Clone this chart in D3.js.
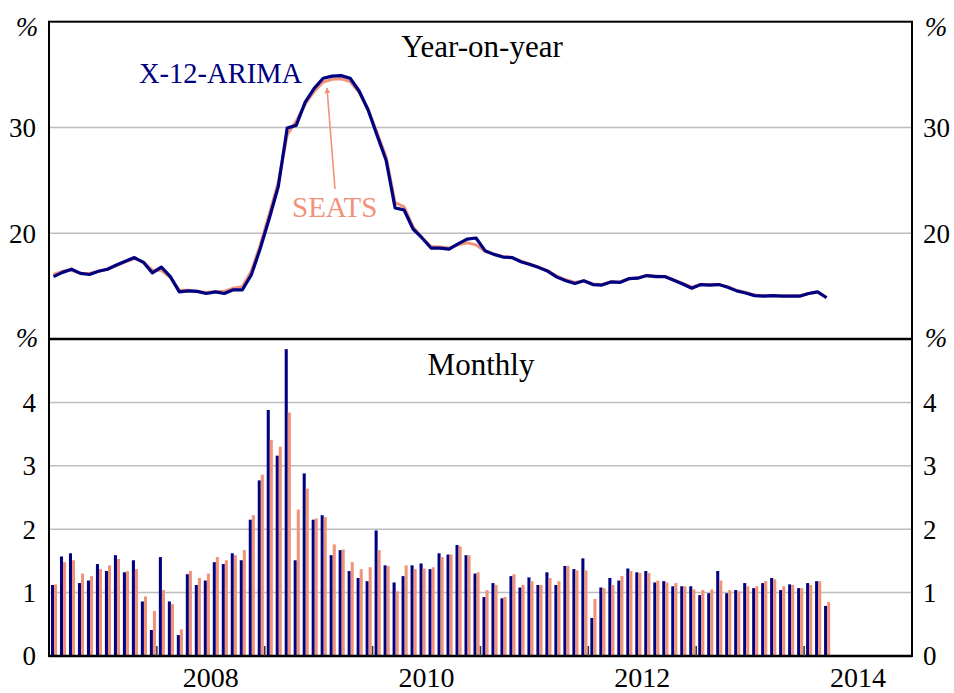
<!DOCTYPE html>
<html>
<head>
<meta charset="utf-8">
<script src="https://cdn.jsdelivr.net/npm/d3@7"></script>
<style>
  body { margin: 0; background: #fff; }
  text { font-family: "Liberation Serif", "Times New Roman", serif; }
</style>
</head>
<body>
<svg id="chart"></svg>
<script>
// Monthly data, Jan 2007 onwards (one value per month)
const firstMonth = new Date(2007, 0, 1);

const x12YoY = [
  15.9, 16.3, 16.6, 16.2, 16.1, 16.4, 16.6, 17.0, 17.35, 17.7,
  17.25, 16.25, 16.8, 15.9, 14.45, 14.55, 14.5, 14.3, 14.45, 14.3,
  14.65, 14.65, 16.05, 18.55, 21.4, 24.4, 29.95, 30.2, 32.4, 33.7,
  34.65, 34.85, 34.9, 34.65, 33.45, 31.65, 29.25, 26.9, 22.4, 22.2,
  20.4, 19.55, 18.6, 18.6, 18.5, 19.0, 19.45, 19.55, 18.35, 18.0,
  17.75, 17.7, 17.3, 17.05, 16.75, 16.4, 15.85, 15.5, 15.25, 15.5,
  15.15, 15.1, 15.4, 15.35, 15.7, 15.75, 16.0, 15.9, 15.9, 15.55,
  15.2, 14.8, 15.15, 15.1, 15.15, 14.9, 14.55, 14.35, 14.1, 14.05,
  14.1, 14.05, 14.05, 14.05, 14.3, 14.45, 13.9
];
const seatsYoY = [
  16.1, 16.4, 16.5, 16.2, 16.2, 16.4, 16.6, 16.95, 17.3, 17.6,
  17.3, 16.5, 16.5, 15.8, 14.6, 14.6, 14.5, 14.4, 14.5, 14.5,
  14.8, 14.95, 16.4, 18.9, 21.8, 24.8, 29.3, 30.6, 32.2, 33.4,
  34.3, 34.55, 34.6, 34.35, 33.3, 31.7, 29.5, 27.2, 22.9, 22.5,
  20.6, 19.6, 18.75, 18.7, 18.6, 18.9, 19.1, 18.9, 18.3, 18.0,
  17.8, 17.7, 17.35, 17.1, 16.8, 16.45, 15.95, 15.6, 15.35, 15.5,
  15.2, 15.15, 15.4, 15.4, 15.7, 15.8, 16.0, 15.95, 15.9, 15.6,
  15.25, 14.9, 15.15, 15.15, 15.15, 14.95, 14.6, 14.4, 14.15, 14.1,
  14.1, 14.1, 14.1, 14.1, 14.3, 14.45, 13.95
];
const x12Monthly = [
  1.12, 1.57, 1.62, 1.15, 1.19, 1.45, 1.34, 1.59, 1.32, 1.51,
  0.86, 0.41, 1.56, 0.86, 0.33, 1.29, 1.12, 1.19, 1.48, 1.45,
  1.62, 1.51, 2.15, 2.77, 3.88, 3.16, 4.84, 1.51, 2.88, 2.15,
  2.22, 1.59, 1.67, 1.34, 1.23, 1.18, 1.98, 1.43, 1.16, 1.26,
  1.43, 1.46, 1.37, 1.62, 1.60, 1.75, 1.59, 1.30, 0.93, 1.15,
  0.91, 1.26, 1.08, 1.24, 1.12, 1.32, 1.12, 1.42, 1.37, 1.54,
  0.60, 1.08, 1.23, 1.19, 1.38, 1.32, 1.34, 1.16, 1.18, 1.10,
  1.10, 1.10, 0.96, 0.99, 1.34, 0.99, 1.04, 1.15, 1.07, 1.15,
  1.23, 1.04, 1.13, 1.07, 1.15, 1.18, 0.79
];
const seatsMonthly = [
  1.13, 1.48, 1.51, 1.30, 1.26, 1.37, 1.43, 1.53, 1.34, 1.37,
  0.94, 0.71, 1.04, 0.82, 0.42, 1.34, 1.23, 1.30, 1.56, 1.51,
  1.59, 1.67, 2.22, 2.86, 3.41, 3.30, 3.84, 2.31, 2.64, 2.17,
  2.19, 1.76, 1.68, 1.48, 1.37, 1.40, 1.67, 1.42, 1.02, 1.43,
  1.37, 1.38, 1.40, 1.56, 1.60, 1.73, 1.59, 1.32, 1.04, 1.12,
  0.93, 1.29, 1.12, 1.18, 1.12, 1.23, 1.18, 1.42, 1.35, 1.35,
  0.90, 1.07, 1.12, 1.26, 1.34, 1.31, 1.31, 1.19, 1.16, 1.15,
  1.10, 1.05, 1.04, 1.05, 1.19, 1.04, 1.02, 1.10, 1.10, 1.18,
  1.21, 1.10, 1.12, 1.07, 1.12, 1.18, 0.85
];

const yearTicks = [2008, 2009, 2010, 2011, 2012, 2013, 2014];
const yearLabels = [2008, 2010, 2012, 2014];
const yoyTicks = [20, 30];
const yoyGrid = [20, 30];
const monthlyTicks = [0, 1, 2, 3, 4];

const navy = "#000080";
const salmon = "#f0937a";

const width = 954, height = 693;
const left = 49, right = 912;
const topY = 21.7, midY = 339, bottomY = 656;

const svg = d3.select("#chart")
    .attr("width", width)
    .attr("height", height);

// one band per month across the whole axis (2007-2014)
const fmt = d3.timeFormat("%Y-%m");
const allMonths = d3.timeMonth.range(new Date(2007, 0, 1), new Date(2015, 0, 1)).map(fmt);
const dataMonths = x12Monthly.map((d, i) => fmt(d3.timeMonth.offset(firstMonth, i)));

const x = d3.scaleBand().domain(allMonths).range([left, right]);
const bw = x.bandwidth();
const xSub = d3.scaleBand().domain(["x12", "seats"]).range([bw * 0.22, bw * 0.9]);

const yTop = d3.scaleLinear().domain([10, 40]).range([midY, topY]);
const yBot = d3.scaleLinear().domain([0, 5]).range([bottomY, midY]);

// gridlines
svg.append("g").selectAll("line")
    .data(yoyGrid)
    .enter().append("line")
    .attr("x1", left).attr("x2", right)
    .attr("y1", d => yTop(d)).attr("y2", d => yTop(d))
    .attr("stroke", "#bdbdbd").attr("stroke-width", 1.5);

svg.append("g").selectAll("line")
    .data(monthlyTicks.slice(1))
    .enter().append("line")
    .attr("x1", left).attr("x2", right)
    .attr("y1", d => yBot(d)).attr("y2", d => yBot(d))
    .attr("stroke", "#bdbdbd").attr("stroke-width", 1.5);

// monthly bars
const barData = dataMonths.map((m, i) => ({ m, x12: x12Monthly[i], seats: seatsMonthly[i] }));
const bars = svg.append("g").selectAll("g")
    .data(barData)
    .enter().append("g")
    .attr("transform", d => `translate(${x(d.m)},0)`);

bars.append("rect")
    .attr("x", xSub("x12"))
    .attr("width", xSub.bandwidth())
    .attr("y", d => yBot(d.x12))
    .attr("height", d => yBot(0) - yBot(d.x12))
    .attr("fill", navy);

bars.append("rect")
    .attr("x", xSub("seats"))
    .attr("width", xSub.bandwidth())
    .attr("y", d => yBot(d.seats))
    .attr("height", d => yBot(0) - yBot(d.seats))
    .attr("fill", salmon);

// year-on-year lines
const line = d3.line()
    .x((d, i) => x(dataMonths[i]) + bw / 2)
    .y(d => yTop(d));

svg.append("path")
    .datum(seatsYoY)
    .attr("d", line)
    .attr("fill", "none")
    .attr("stroke", salmon)
    .attr("stroke-width", 3)
    .attr("stroke-linejoin", "round");

svg.append("path")
    .datum(x12YoY)
    .attr("d", line)
    .attr("fill", "none")
    .attr("stroke", navy)
    .attr("stroke-width", 3.2)
    .attr("stroke-linejoin", "round");

// panel frames
svg.append("rect")
    .attr("x", left).attr("y", topY)
    .attr("width", right - left).attr("height", bottomY - topY)
    .attr("fill", "none").attr("stroke", "#000").attr("stroke-width", 2);

svg.append("line")
    .attr("x1", left).attr("x2", right)
    .attr("y1", midY).attr("y2", midY)
    .attr("stroke", "#000").attr("stroke-width", 2.5);

svg.append("line")
    .attr("x1", left).attr("x2", right)
    .attr("y1", bottomY).attr("y2", bottomY)
    .attr("stroke", "#000").attr("stroke-width", 2.5);

// year ticks on the bottom axis
svg.append("g").selectAll("line")
    .data(yearTicks)
    .enter().append("line")
    .attr("x1", d => x(d + "-01")).attr("x2", d => x(d + "-01"))
    .attr("y1", bottomY).attr("y2", bottomY - 10)
    .attr("stroke", "#333").attr("stroke-width", 1.5);

svg.append("g").selectAll("text")
    .data(yearLabels)
    .enter().append("text")
    .attr("x", d => x(d + "-07"))
    .attr("y", 687)
    .attr("text-anchor", "middle")
    .attr("font-size", 28)
    .text(d => d);

// y tick labels, both sides
function yLabels(ticks, scale) {
    [[left - 13, "end"], [right + 11, "start"]].forEach(([px, anchor]) => {
        svg.append("g").selectAll("text")
            .data(ticks)
            .enter().append("text")
            .attr("x", px)
            .attr("y", d => scale(d))
            .attr("dy", "0.35em")
            .attr("text-anchor", anchor)
            .attr("font-size", 27)
            .text(d => d);
    });
}
yLabels(yoyTicks, yTop);
yLabels(monthlyTicks, yBot);

// % unit markers
[[27, 27], [27, 338], [936, 27], [936, 338]].forEach(([px, py]) => {
    svg.append("text")
        .attr("x", px).attr("y", py)
        .attr("dy", "0.35em")
        .attr("text-anchor", "middle")
        .attr("font-size", 27)
        .attr("font-style", "italic")
        .text("%");
});

// panel titles
svg.append("text")
    .attr("x", 482).attr("y", 57)
    .attr("text-anchor", "middle")
    .attr("font-size", 31)
    .text("Year-on-year");

svg.append("text")
    .attr("x", 481).attr("y", 375)
    .attr("text-anchor", "middle")
    .attr("font-size", 31)
    .text("Monthly");

// series labels
svg.append("text")
    .attr("x", 139).attr("y", 83)
    .attr("font-size", 28.5)
    .attr("fill", navy)
    .text("X-12-ARIMA");

svg.append("text")
    .attr("x", 292).attr("y", 217)
    .attr("font-size", 29)
    .attr("fill", salmon)
    .text("SEATS");

svg.append("defs").append("marker")
    .attr("id", "head")
    .attr("viewBox", "0 0 10 10")
    .attr("refX", 9).attr("refY", 5)
    .attr("markerWidth", 6).attr("markerHeight", 8)
    .attr("markerUnits", "userSpaceOnUse")
    .attr("orient", "auto")
    .append("path")
    .attr("d", "M0,0 L10,5 L0,10 z")
    .attr("fill", salmon);

svg.append("line")
    .attr("x1", 335).attr("y1", 189)
    .attr("x2", 327).attr("y2", 88)
    .attr("stroke", salmon)
    .attr("stroke-width", 1.6)
    .attr("marker-end", "url(#head)");
</script>
</body>
</html>
